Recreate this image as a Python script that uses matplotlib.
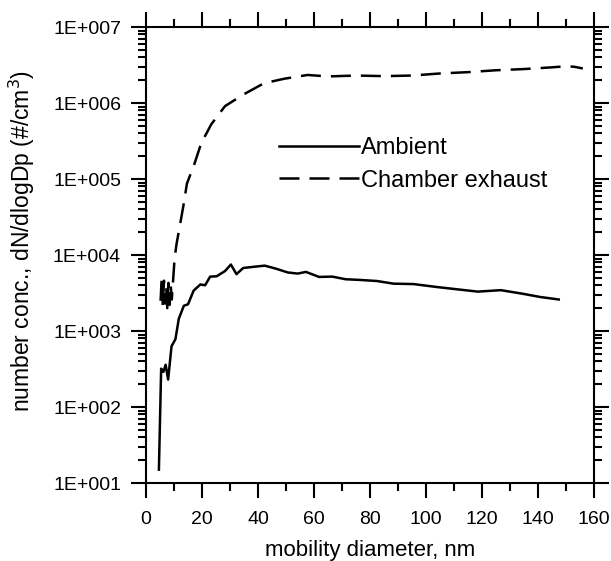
import numpy as np
import matplotlib.pyplot as plt
from matplotlib.ticker import MultipleLocator, LogLocator, FuncFormatter, NullFormatter

plt.rcParams['font.family'] = ['Liberation Sans', 'DejaVu Sans']

# ambient (solid)
amb_d = [4.6, 5.4, 6.2, 7.0, 7.9, 9.1, 10.5, 11.7, 13.5, 15.0, 17.0, 19.4, 21.1,
         22.9, 25.2, 28.2, 30.3, 32.3, 34.7, 38.5, 42.4, 46.5, 50.6, 54.2, 57.1,
         61.8, 66.5, 71.3, 76.5, 82.5, 88.4, 95.5, 103.7, 110.8, 118.5, 126.7,
         134.4, 140.9, 147.4]
amb_n = [15, 320, 290, 360, 230, 630, 780, 1450, 2150, 2250, 3400, 4100, 4000,
         5200, 5250, 6150, 7500, 5600, 6750, 7000, 7250, 6600, 5900, 5700, 6000,
         5150, 5200, 4800, 4700, 4550, 4200, 4150, 3800, 3550, 3300, 3450,
         3100, 2800, 2600]

# chamber exhaust (dashed)
ch_d = [5.2, 5.6, 6.0, 6.4, 6.8, 7.2, 7.6, 8.0, 8.4, 8.8, 9.2, 10.2, 10.9, 12.3,
        13.5, 14.6, 17.2, 19.7, 23.3, 28.2, 34.7, 42.1, 49.4, 57.7, 65, 75, 85,
        95, 105, 115, 125, 135, 145, 150, 153, 156]
ch_n = [2500, 5000, 2100, 4600, 2300, 3900, 2000, 4300, 2200, 4100, 2600, 9000,
        14000, 27000, 48000, 87000, 155000, 295000, 525000, 910000, 1290000,
        1820000, 2090000, 2340000, 2240000, 2300000, 2260000, 2300000, 2450000,
        2550000, 2700000, 2800000, 2950000, 3050000, 3000000, 2850000]

fig = plt.figure(figsize=(6.11, 5.61), dpi=100)
ax = fig.add_axes([0.2390, 0.1390, 0.7332, 0.8128])

ax.plot(amb_d, amb_n, color='black', lw=1.8, label='Ambient')
ax.plot(ch_d, ch_n, color='black', lw=1.8, dashes=(8, 4), label='Chamber exhaust')

ax.set_yscale('log')
ax.set_xlim(0, 160)
ax.set_ylim(1e1, 1e7)
ax.xaxis.set_major_locator(MultipleLocator(20))
ax.xaxis.set_minor_locator(MultipleLocator(10))
ax.yaxis.set_major_locator(LogLocator(base=10, numticks=10))
ax.yaxis.set_minor_locator(LogLocator(base=10, subs=np.arange(2, 10), numticks=20))
ax.yaxis.set_minor_formatter(NullFormatter())
ax.yaxis.set_major_formatter(FuncFormatter(lambda v, p: '1E+%03d' % round(np.log10(v))))

ax.tick_params(which='both', direction='out', top=True, right=True,
               labelsize=14, width=1.5, colors='black')
ax.tick_params(which='major', length=11)
ax.tick_params(which='minor', length=5.5)
ax.tick_params(axis='x', which='major', pad=9)
ax.tick_params(axis='y', which='major', pad=7)
for s in ax.spines.values():
    s.set_linewidth(1.5)

ax.set_xlabel('mobility diameter, nm', fontsize=16, labelpad=9)
ax.set_ylabel('number conc., dN/dlogDp (#/cm$^3$)', fontsize=16.5)
ax.yaxis.set_label_coords(-0.243, 0.53)

ax.legend(loc='upper left', bbox_to_anchor=(0.296, 0.759), frameon=False,
          fontsize=17, handlelength=3.4, handletextpad=0.1, labelspacing=0.45,
          borderpad=0, borderaxespad=0)

fig.savefig('out.png', dpi=100)
